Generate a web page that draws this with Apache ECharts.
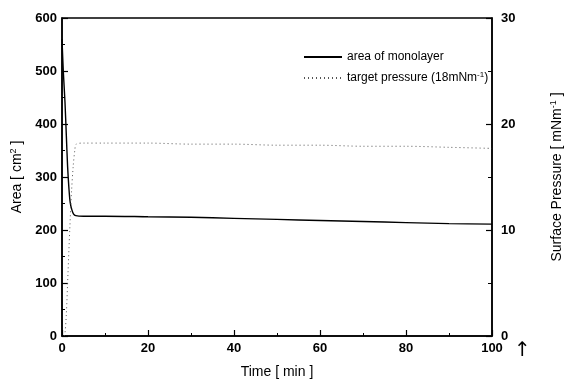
<!DOCTYPE html>
<html><head><meta charset="utf-8">
<script src="https://cdn.jsdelivr.net/npm/echarts@6/dist/echarts.min.js"></script>
<style>html,body{margin:0;padding:0;background:#fff}#c{width:578px;height:387px}</style>
</head><body><div id="c"></div>
<script>
var areaTime = [0, 0.3, 0.7, 1.0, 1.3, 1.6, 1.9, 2.3, 2.7, 3.2, 5, 10, 20, 30, 40, 50, 60, 70, 80, 90, 100];
var areaVals = [560, 500, 440, 380, 320, 280, 252, 238, 230, 227, 226, 226, 225, 224, 222, 220, 218, 216, 214, 212, 211];
var presTime = [0.5, 0.7, 1.0, 1.4, 1.8, 2.2, 2.6, 3.0, 3.3, 5, 10, 20, 30, 40, 50, 60, 70, 80, 90, 100];
var presVals = [0, 0.3, 2, 6, 10, 13.5, 16, 17.6, 18.1, 18.2, 18.2, 18.2, 18.1, 18.1, 18.0, 18.0, 17.9, 17.9, 17.8, 17.7];
var xTicks = [0, 20, 40, 60, 80, 100];
var leftTicks = [0, 100, 200, 300, 400, 500, 600];
var rightTicks = [0, 10, 20, 30];

var font = 'Liberation Sans, Arial, sans-serif';
var chart = echarts.init(document.getElementById('c'), null, {renderer: 'canvas'});
function pairs(t, v) { return t.map(function (x, i) { return [x, v[i]]; }); }
var lab = {color: '#000', fontFamily: font, fontSize: 13, fontWeight: 'bold'};
var supStyle = {fontSize: 9, verticalAlign: 'top', padding: [0, 0, 7, 0], fontFamily: font, color: '#000'};
chart.setOption({
  backgroundColor: '#fff',
  animation: false,
  grid: {left: 62, right: 86, top: 18, bottom: 51, show: true, borderColor: '#000', borderWidth: 1.5},
  legend: {
    orient: 'vertical', left: 298, top: 46, itemWidth: 38, itemHeight: 10, itemGap: 8,
    itemStyle: {opacity: 0},
    textStyle: {fontFamily: font, fontSize: 12, color: '#000',
      rich: {sup: {fontSize: 8, verticalAlign: 'top', padding: [0, 0, 6, 0], fontFamily: font, color: '#000'}}},
    formatter: function (n) { return n === 'p' ? 'target pressure (18mNm{sup|-1})' : 'area of monolayer'; },
    data: ['a', 'p']
  },
  xAxis: {
    type: 'value', min: 0, max: 100, interval: 20,
    name: 'Time [ min ]', nameLocation: 'middle', nameGap: 29,
    nameTextStyle: {fontFamily: font, fontSize: 14, color: '#000'},
    axisLine: {lineStyle: {color: '#000', width: 1.5}},
    axisTick: {inside: true, length: 6, lineStyle: {color: '#000', width: 1.2}},
    minorTick: {show: true, splitNumber: 2, length: 3, lineStyle: {color: '#000'}},
    splitLine: {show: false},
    axisLabel: Object.assign({margin: 6, formatter: function (v) { return xTicks.indexOf(v) >= 0 ? v : ''; }}, lab)
  },
  yAxis: [{
    type: 'value', min: 0, max: 600, interval: 100, position: 'left',
    name: 'Area [ cm{sup|2} ]', nameLocation: 'middle', nameGap: 34, nameRotate: 90,
    nameTextStyle: {fontFamily: font, fontSize: 14, color: '#000', rich: {sup: supStyle}},
    axisLine: {lineStyle: {color: '#000', width: 1.5}},
    axisTick: {inside: true, length: 6, lineStyle: {color: '#000', width: 1.2}},
    minorTick: {show: true, splitNumber: 2, length: 3, lineStyle: {color: '#000'}},
    splitLine: {show: false},
    axisLabel: Object.assign({margin: 5, formatter: function (v) { return leftTicks.indexOf(v) >= 0 ? v : ''; }}, lab)
  }, {
    type: 'value', min: 0, max: 30, interval: 10, position: 'right',
    name: 'Surface Pressure [ mNm{sup|-1} ]', nameLocation: 'middle', nameGap: 57, nameRotate: 90,
    nameTextStyle: {fontFamily: font, fontSize: 14, color: '#000', rich: {sup: supStyle}},
    axisLine: {show: true, lineStyle: {color: '#000', width: 1.5}},
    axisTick: {show: true, inside: true, length: 6, lineStyle: {color: '#000', width: 1.2}},
    minorTick: {show: true, splitNumber: 2, length: 4, lineStyle: {color: '#000'}},
    splitLine: {show: false},
    axisLabel: Object.assign({margin: 9, formatter: function (v) { return rightTicks.indexOf(v) >= 0 ? v : ''; }}, lab)
  }],
  graphic: [{type: 'text', left: 514, top: 341, style: {text: '↑', fontSize: 20, fill: '#000', fontFamily: 'DejaVu Sans'}}],
  series: [{
    name: 'a', type: 'line', yAxisIndex: 0, symbol: 'none', smooth: 0.3,
    lineStyle: {color: '#000', width: 1.4},
    itemStyle: {color: '#000'},
    data: pairs(areaTime, areaVals)
  }, {
    name: 'p', type: 'line', yAxisIndex: 1, symbol: 'none', smooth: 0.3,
    lineStyle: {color: '#555', width: 1, type: [1, 3]},
    itemStyle: {color: '#555'},
    data: pairs(presTime, presVals)
  }]
});
</script></body></html>
